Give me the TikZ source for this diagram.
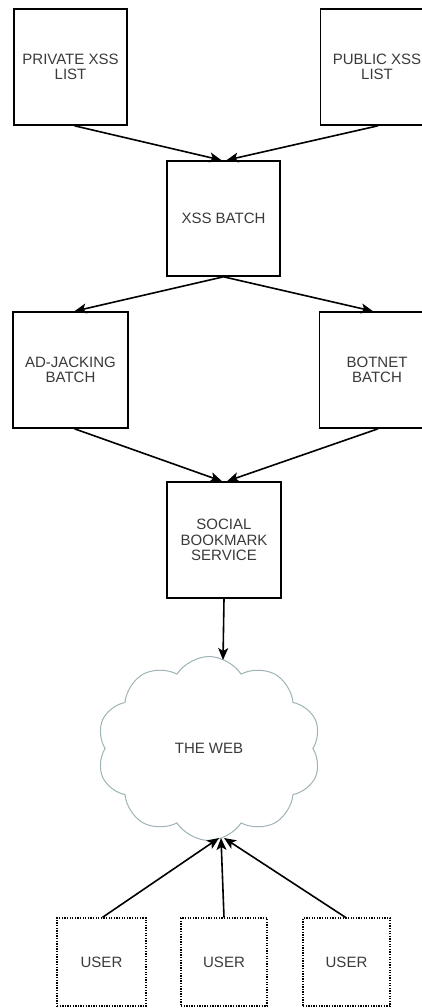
\documentclass[tikz,border=0pt]{standalone}
\usepackage{fontspec}
\setmainfont{Liberation Sans}
\usetikzlibrary{arrows.meta,shapes.symbols}
\definecolor{labelgray}{HTML}{3A3A3A}
\definecolor{cloudline}{HTML}{9DB3B6}
\tikzset{
  stage/.style={draw=black, line width=1.6pt, fill=white, align=center,
    minimum width=113pt, minimum height=116pt, inner sep=0pt,
    text=labelgray, font=\fontsize{15}{15.5}\selectfont},
  userbox/.style={draw=black, line width=1.3pt, dash pattern=on 1.3pt off 1.3pt,
    minimum width=88pt, minimum height=88pt, inner sep=0pt,
    text=labelgray, font=\fontsize{15}{15.5}\selectfont},
  flow/.style={line width=1.6pt, -{Stealth[length=12pt,width=10pt,inset=3pt]}},
  webcloud/.style={cloud, draw=cloudline, line width=1pt, cloud puffs=10,
    cloud puff arc=115, minimum width=224pt, minimum height=184pt,
    inner sep=0pt, text=labelgray, font=\fontsize{15}{15.5}\selectfont}
}
\begin{document}
\begin{tikzpicture}[x=1pt, y=-1pt]
  \useasboundingbox (0,0) rectangle (421,1008);

  % sources of cross-site scripting payloads
  \node[stage] (priv) at (70.5,67) {PRIVATE XSS\\LIST};
  \node[stage] (pub)  at (377,67)  {PUBLIC XSS\\LIST};

  \node[stage, minimum height=115pt] (xss) at (223.5,218.5) {XSS BATCH};

  \node[stage, minimum width=115pt] (ad)  at (70.5,370) {AD-JACKING\\BATCH};
  \node[stage, minimum width=115pt] (bot) at (377,370)  {BOTNET\\BATCH};

  \node[stage, minimum width=114pt] (soc) at (224,540) {SOCIAL\\BOOKMARK\\SERVICE};

  % the web
  \node[webcloud] (web) at (209,748.5) {THE WEB};
  \coordinate (webtop) at (223,660);
  \coordinate (webbot) at (221,838);

  % end users
  \node[userbox, minimum width=89pt] (u1) at (101.5,962) {USER};
  \node[userbox, minimum width=86pt] (u2) at (224,962)   {USER};
  \node[userbox, minimum width=87pt] (u3) at (346.5,962) {USER};

  % connectors
  \draw[flow] ([xshift=4pt]priv.south) -- ([xshift=-2pt]xss.north);
  \draw[flow] ([xshift=1pt]pub.south)  -- ([xshift=3pt]xss.north);

  \draw[flow] (xss.south) -- ([xshift=4pt]ad.north);
  \draw[flow] (xss.south) -- ([xshift=-4pt]bot.north);

  \draw[flow] ([xshift=4pt]ad.south)  -- ([xshift=-2pt]soc.north);
  \draw[flow] ([xshift=1pt]bot.south) -- ([xshift=3pt]soc.north);

  \draw[flow] (soc.south) -- (webtop);

  \draw[flow] ([xshift=1pt]u1.north)  -- ([xshift=-2pt]webbot);
  \draw[flow] (u2.north)              -- (webbot);
  \draw[flow] ([xshift=-1pt]u3.north) -- ([xshift=3pt]webbot);
\end{tikzpicture}
\end{document}
